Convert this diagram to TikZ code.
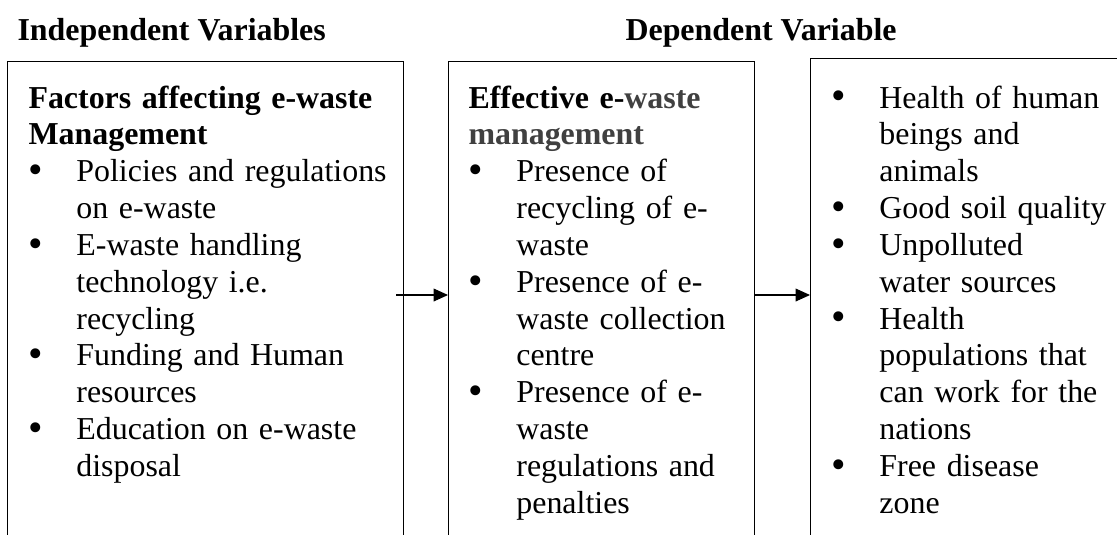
\documentclass[tikz,border=0pt]{standalone}
\usepackage{fontspec}
\setmainfont{Liberation Serif}
\usetikzlibrary{arrows.meta,positioning}
\definecolor{headgray}{HTML}{404040}

\newcommand{\bul}{\makebox[18pt][l]{\smash{\raisebox{-0.7pt}{\scalebox{1.3}{\textbullet}}}}}
\newcommand{\ind}{\hspace*{18pt}}

\begin{document}
\begin{tikzpicture}[
  x=0.376pt, y=-0.376pt,
  >={Triangle[length=5.4pt,width=4.8pt]},
  font=\fontsize{12pt}{13.85pt}\selectfont,
  frame/.style={
    draw,
    line width=0.55pt,
    minimum height=188pt,
    anchor=north west,
    inner sep=0pt
  },
  body/.style={
    anchor=base west,
    inner sep=0pt,
    align=left
  },
  heading/.style={
    anchor=base west,
    inner sep=0pt,
    font=\fontsize{12pt}{13.85pt}\selectfont\bfseries
  },
  flow/.style={->, line width=0.4pt}
]
  \useasboundingbox (0,0) rectangle (1117,534);
  \clip (0,0) rectangle (1117,534);

  % Column titles
  \node[heading] (indep) at (17,40) {Independent Variables};
  \node[heading] (dep) at (625,40) {Dependent Variable};

  % Frames (open at the bottom of the page)
  \node[frame, minimum width=148.9pt] (col1) at (7,61) {};
  \node[frame, minimum width=115pt] (col2) at (448,61) {};
  \node[frame, minimum width=125pt] (col3) at (810,58) {};

  % Box 1: factors
  \node[body, text width=140pt] (factors) at (28,108) {
    \textbf{Factors affecting e-waste}\\
    \textbf{Management}\\
    \bul Policies and regulations\\
    \ind on e-waste\\
    \bul E-waste handling\\
    \ind technology i.e.\\
    \ind recycling\\
    \bul Funding and Human\\
    \ind resources\\
    \bul Education on e-waste\\
    \ind disposal
  };

  % Box 2: effective management
  \node[body, text width=108pt] (effective) at (468,108) {
    \textbf{Effective e-{\color{headgray}waste}}\\
    \textbf{\color{headgray}management}\\
    \bul Presence of\\
    \ind recycling of e-\\
    \ind waste\\
    \bul Presence of e-\\
    \ind waste collection\\
    \ind centre\\
    \bul Presence of e-\\
    \ind waste\\
    \ind regulations and\\
    \ind penalties
  };

  % Box 3: outcomes
  \node[body, text width=110pt] (outcomes) at (831,108) {
    \bul Health of human\\
    \ind beings and\\
    \ind animals\\
    \bul Good soil quality\\
    \bul Unpolluted\\
    \ind water sources\\
    \bul Health\\
    \ind populations that\\
    \ind can work for the\\
    \ind nations\\
    \bul Free disease\\
    \ind zone
  };

  % Connectors
  \coordinate (mid) at (0,295);
  \draw[flow] ([xshift=-3pt]col1.east |- mid) -- (col2.west |- mid);
  \draw[flow] (col2.east |- mid) -- (col3.west |- mid);

\end{tikzpicture}
\end{document}
